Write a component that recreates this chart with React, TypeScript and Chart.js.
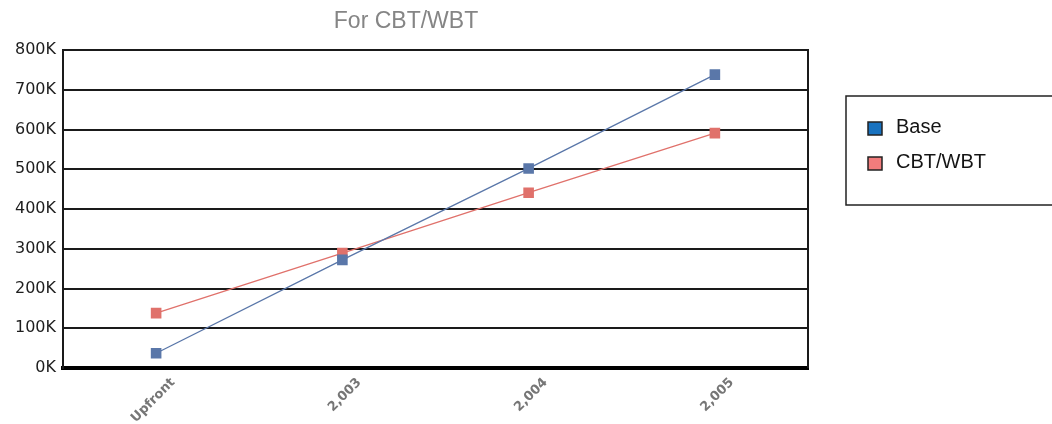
import React, { useEffect, useRef } from 'react';
import { Chart, registerables } from 'chart.js';

Chart.register(...registerables);

const categories = ['Upfront', '2,003', '2,004', '2,005'];
const baseValues = [37000, 272000, 502000, 738000];
const cbtValues = [138000, 289000, 441000, 591000];
const yTickLabels = ['0K', '100K', '200K', '300K', '400K', '500K', '600K', '700K', '800K'];
const seriesNames = ['Base', 'CBT/WBT'];
const titleText = 'For CBT/WBT';

const lineColors = ['#5a77a9', '#e0716b'];
const swatchColors = ['#1872bf', '#f27c7c'];

const decorPlugin = {
  id: 'decor',
  afterDraw(chart: any) {
    const { ctx, chartArea } = chart;
    ctx.save();
    // right border of plot area
    ctx.strokeStyle = '#1a1a1a';
    ctx.lineWidth = 2;
    ctx.beginPath();
    ctx.moveTo(chartArea.right, chartArea.top - 1);
    ctx.lineTo(chartArea.right, chartArea.bottom);
    ctx.stroke();

    // title
    ctx.fillStyle = '#858585';
    ctx.font = '23px "Liberation Sans", Arial, sans-serif';
    ctx.textAlign = 'center';
    ctx.textBaseline = 'middle';
    ctx.fillText(titleText, chartArea.right / 2 + 2, 22);

    // legend box
    const bx = chartArea.right + 38;
    ctx.strokeStyle = '#222';
    ctx.lineWidth = 1.5;
    ctx.strokeRect(bx, 96, 240, 109);
    ctx.font = '20px "Liberation Sans", Arial, sans-serif';
    ctx.textAlign = 'left';
    chart.data.datasets.forEach((ds: any, i: number) => {
      const rowY = 127.5 + i * 35;
      ctx.fillStyle = swatchColors[i];
      ctx.fillRect(bx + 22, rowY - 5.5, 14, 13);
      ctx.strokeStyle = '#222';
      ctx.lineWidth = 1.5;
      ctx.strokeRect(bx + 22, rowY - 5.5, 14, 13);
      ctx.fillStyle = '#141414';
      ctx.textBaseline = 'middle';
      ctx.fillText(ds.label, bx + 50, rowY);
    });
    ctx.restore();
  },
};

export default function App() {
  const ref = useRef<HTMLCanvasElement | null>(null);

  useEffect(() => {
    if (!ref.current) return;
    const chart = new Chart(ref.current, {
      type: 'line',
      data: {
        labels: categories,
        datasets: [
          {
            label: seriesNames[0],
            data: baseValues,
            borderColor: lineColors[0],
            backgroundColor: lineColors[0],
            pointBackgroundColor: lineColors[0],
            pointBorderColor: lineColors[0],
            borderWidth: 1.3,
            pointStyle: 'rect',
            pointRadius: 7.5,
            pointBorderWidth: 0,
            tension: 0,
          },
          {
            label: seriesNames[1],
            data: cbtValues,
            borderColor: lineColors[1],
            backgroundColor: lineColors[1],
            pointBackgroundColor: lineColors[1],
            pointBorderColor: lineColors[1],
            borderWidth: 1.3,
            pointStyle: 'rect',
            pointRadius: 7.5,
            pointBorderWidth: 0,
            tension: 0,
          },
        ],
      },
      options: {
        responsive: false,
        animation: false,
        layout: { padding: { top: 50, right: 244, left: 0, bottom: 0 } },
        plugins: {
          legend: { display: false },
          title: { display: false },
          tooltip: { enabled: false },
        },
        scales: {
          x: {
            offset: true,
            grid: { display: false },
            border: { display: true, color: '#000', width: 4 },
            ticks: {
              minRotation: 45,
              maxRotation: 45,
              autoSkip: false,
              labelOffset: 17,
              padding: -1,
              color: '#767676',
              font: { family: '"DejaVu Sans", sans-serif', size: 13, weight: 'bold' },
            },
            afterFit: (scale: any) => {
              scale.height = 56;
            },
          },
          y: {
            min: 0,
            max: 800000,
            ticks: {
              stepSize: 100000,
              padding: 7,
              color: '#1e1e1e',
              font: { family: '"DejaVu Sans", sans-serif', size: 16 },
              callback: (_v: any, i: number) => yTickLabels[i],
            },
            grid: { color: '#1a1a1a', lineWidth: 2, drawTicks: false },
            border: { display: true, color: '#1a1a1a', width: 2 },
            afterFit: (scale: any) => {
              scale.width = 63;
            },
          },
        },
      },
      plugins: [decorPlugin],
    });
    return () => chart.destroy();
  }, []);

  return (
    <div style={{ position: 'absolute', left: 0, top: 0, width: 1052, height: 424, background: '#fff' }}>
      <canvas ref={ref} width={1052} height={424} />
    </div>
  );
}
